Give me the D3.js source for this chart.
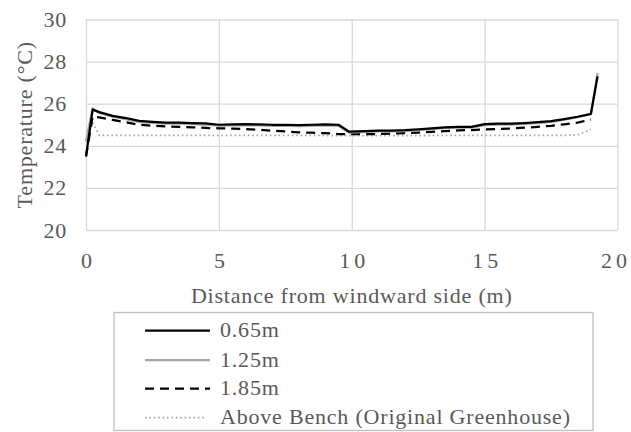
<!DOCTYPE html>
<html>
<head>
<meta charset="utf-8">
<script src="https://cdn.jsdelivr.net/npm/d3@7"></script>
<style>
  body { margin: 0; background: #fff; }
  svg text { font-family: "Liberation Serif", "Times New Roman", serif; fill: #595959; letter-spacing: 0.8px; }
</style>
</head>
<body>
<svg id="chart" width="631" height="432"></svg>
<script>
// distance from windward side (m)
const distance = [0, 0.25, 0.5, 1, 1.5, 2, 2.5, 3, 3.5, 4, 4.5, 5, 5.5, 6, 6.5, 7, 7.5, 8, 8.5, 9, 9.5,
  9.9, 10.5, 11, 11.5, 12, 12.5, 13, 13.5, 14, 14.5, 15, 15.5, 16, 16.5, 17, 17.5, 18, 18.5, 19, 19.25];

// temperatures (°C) for each series, null where the series has no point
const t065 = [23.5, 25.72, 25.6, 25.42, 25.32, 25.18, 25.14, 25.1, 25.1, 25.08, 25.06, 25.0, 25.02, 25.03, 25.02, 25.0, 25.0, 24.98, 25.0, 25.02, 25.0,
  24.67, 24.7, 24.72, 24.72, 24.74, 24.78, 24.83, 24.88, 24.9, 24.9, 25.03, 25.05, 25.05, 25.08, 25.12, 25.17, 25.27, 25.38, 25.52, 27.3];
const t125 = [24.2, 25.78, 25.56, 25.38, 25.27, 25.13, 25.09, 25.05, 25.05, 25.03, 25.01, 24.96, 24.97, 24.98, 24.97, 24.95, 24.95, 24.93, 24.95, 24.97, 24.95,
  24.63, 24.66, 24.68, 24.68, 24.7, 24.74, 24.79, 24.84, 24.86, 24.86, 24.98, 25.0, 25.01, 25.04, 25.08, 25.14, 25.24, 25.36, 25.5, 27.45];
const t185 = [23.5, 25.4, 25.35, 25.23, 25.12, 25.0, 24.95, 24.92, 24.9, 24.88, 24.85, 24.83, 24.82, 24.8, 24.76, 24.72, 24.68, 24.64, 24.62, 24.6, 24.56,
  24.55, 24.55, 24.56, 24.58, 24.6, 24.63, 24.66, 24.7, 24.73, 24.75, 24.78, 24.8, 24.82, 24.86, 24.9, 24.95, 25.02, 25.1, 25.25, null];
const tBench = [null, 25.1, 24.5, 24.5, 24.5, 24.5, 24.5, 24.5, 24.5, 24.5, 24.5, 24.5, 24.5, 24.5, 24.5, 24.5, 24.5, 24.5, 24.49, 24.49, 24.48,
  24.48, 24.48, 24.48, 24.48, 24.48, 24.48, 24.49, 24.49, 24.49, 24.5, 24.5, 24.5, 24.5, 24.5, 24.5, 24.5, 24.5, 24.52, 24.78, null];

const seriesNames = ["0.65m", "1.25m", "1.85m", "Above Bench (Original Greenhouse)"];
const xTicks = [0, 5, 10, 15, 20];
const yTicks = [20, 22, 24, 26, 28, 30];

const styles = [
  { stroke: "#000000", width: 2.25, dash: null },
  { stroke: "#a6a6a6", width: 2.25, dash: null },
  { stroke: "#000000", width: 2.25, dash: "9,6" },
  { stroke: "#a6a6a6", width: 1.75, dash: "1.6,2.8" }
];
const values = [t065, t125, t185, tBench];

const svg = d3.select("#chart");
const plotLeft = 86, plotRight = 617.5, plotTop = 19.5, plotBottom = 230;
const FONT = 22;

const x = d3.scaleLinear().domain([0, 20]).range([plotLeft, plotRight]);
const y = d3.scaleLinear().domain([20, 30]).range([plotBottom, plotTop]);

// gridlines
svg.append("g")
  .attr("transform", `translate(0,${plotBottom})`)
  .call(d3.axisBottom(x).tickValues(xTicks).tickSize(-(plotBottom - plotTop)).tickFormat(""))
  .call(g => g.select(".domain").remove())
  .selectAll("line").attr("stroke", "#d9d9d9").attr("stroke-width", 1.3);

svg.append("g")
  .attr("transform", `translate(${plotLeft},0)`)
  .call(d3.axisLeft(y).tickValues(yTicks).tickSize(-(plotRight - plotLeft)).tickFormat(""))
  .call(g => g.select(".domain").remove())
  .selectAll("line").attr("stroke", "#d9d9d9").attr("stroke-width", 1.3);

// tick labels (Excel spreads the digits of the x labels)
svg.append("g")
  .attr("transform", `translate(0,${plotBottom})`)
  .call(d3.axisBottom(x).tickValues(xTicks).tickSize(0).tickPadding(22))
  .call(g => g.select(".domain").remove())
  .selectAll("text")
  .attr("font-size", FONT)
  .style("letter-spacing", "4px")
  .attr("dx", d => d === 20 ? -2 : 2);

svg.append("g")
  .attr("transform", `translate(${plotLeft},0)`)
  .call(d3.axisLeft(y).tickValues(yTicks).tickSize(0).tickPadding(19))
  .call(g => g.select(".domain").remove())
  .selectAll("text")
  .attr("font-size", FONT);

// axis titles
svg.append("text")
  .attr("x", (plotLeft + plotRight) / 2)
  .attr("y", 303)
  .attr("text-anchor", "middle")
  .attr("font-size", FONT)
  .text("Distance from windward side (m)");

svg.append("text")
  .attr("transform", `translate(32,${(plotTop + plotBottom) / 2}) rotate(-90)`)
  .attr("text-anchor", "middle")
  .attr("font-size", FONT)
  .text("Temperature (°C)");

// series lines
const line = d3.line()
  .defined(d => d[1] != null)
  .x(d => x(d[0]))
  .y(d => y(d[1]));

[3, 2, 1, 0].forEach(i => {
  svg.append("path")
    .datum(distance.map((d, j) => [d, values[i][j]]))
    .attr("d", line)
    .attr("fill", "none")
    .attr("stroke", styles[i].stroke)
    .attr("stroke-width", styles[i].width)
    .attr("stroke-dasharray", styles[i].dash)
    .attr("stroke-linejoin", "round");
});

// legend
const legend = svg.append("g");
legend.append("rect")
  .attr("x", 114).attr("y", 312.5)
  .attr("width", 479).attr("height", 118)
  .attr("fill", "none")
  .attr("stroke", "#bfbfbf")
  .attr("stroke-width", 1.3);

const rowY = [330.5, 360, 388.5, 417.5];
seriesNames.forEach((name, i) => {
  legend.append("line")
    .attr("x1", 145).attr("x2", i === 3 ? 204 : 210)
    .attr("y1", rowY[i]).attr("y2", rowY[i])
    .attr("stroke", styles[i].stroke)
    .attr("stroke-width", styles[i].width)
    .attr("stroke-dasharray", styles[i].dash);
  legend.append("text")
    .attr("x", 220)
    .attr("y", rowY[i] + 6.5)
    .attr("font-size", FONT)
    .text(name);
});
</script>
</body>
</html>
